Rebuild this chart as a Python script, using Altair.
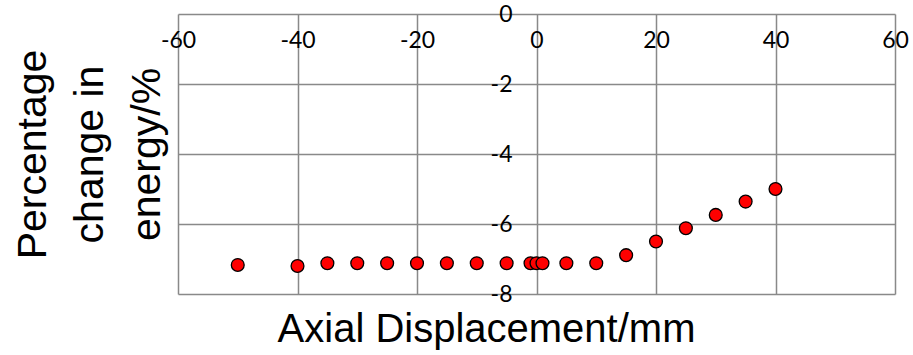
import altair as alt
import pandas as pd

# Data
displacement = [-50, -40, -35, -30, -25, -20, -15, -10, -5, -1, 0, 1, 5, 10, 15, 20, 25, 30, 35, 40]
energy_change = [-7.17, -7.20, -7.12, -7.12, -7.12, -7.12, -7.12, -7.12, -7.12, -7.12, -7.12, -7.12,
                 -7.12, -7.12, -6.89, -6.50, -6.12, -5.74, -5.36, -5.00]
x_ticks = [-60, -40, -20, 0, 20, 40, 60]
y_ticks = [0, -2, -4, -6, -8]

df = pd.DataFrame({"x": displacement, "y": energy_change})

GRID = "#898989"
TICK_FONT = "Lato"
TITLE_FONT = "Liberation Sans"

chart = alt.Chart(df).mark_circle(
    color="#ff0000", stroke="#000000", strokeWidth=1.3, size=165, opacity=1
).encode(
    x=alt.X("x:Q",
            scale=alt.Scale(domain=[-60, 60], nice=False, zero=False),
            axis=alt.Axis(
                orient="bottom", offset=-280, values=x_ticks,
                labelExpr="'' + datum.value",
                domain=False, ticks=False, tickSize=0,
                grid=True, gridColor=GRID, gridWidth=1.5, gridOpacity=1,
                labelFont=TICK_FONT, labelFontSize=23, labelColor="#000000",
                labelPadding=26, labelBaseline="middle", labelFlush=False,
                labelOverlap=False,
                title="Axial Displacement/mm", titleFont=TITLE_FONT, titleFontSize=40,
                titleFontWeight="normal", titleColor="#000000",
                titleX=308, titleY=327, titleAlign="center", titleBaseline="alphabetic",
                titleAnchor="start",
            )),
    y=alt.Y("y:Q",
            scale=alt.Scale(domain=[-8, 0], nice=False, zero=False),
            axis=alt.Axis(
                orient="left", offset=-358, values=y_ticks,
                labelExpr="'' + datum.value",
                domain=False, ticks=False, tickSize=0,
                grid=True, gridColor=GRID, gridWidth=1.5, gridOpacity=1,
                labelFont=TICK_FONT, labelFontSize=23, labelColor="#000000",
                labelPadding=24, labelFlush=False, labelOverlap=False,
                title=["Percentage", "change in", "energy/%"],
                titleFont=TITLE_FONT, titleFontSize=41, titleFontWeight="normal",
                titleColor="#000000", titleLineHeight=57,
                titleAngle=270, titleX=-503, titleY=140,
                titleAlign="center", titleBaseline="middle", titleAnchor="start",
            )),
).properties(
    width=717, height=280,
    autosize=alt.AutoSizeParams(type="none"),
    padding={"left": 178, "top": 14, "right": 18, "bottom": 61},
    background="#ffffff",
).configure_view(strokeWidth=0)

chart.save("out.html", embed_options={"renderer": "svg", "actions": False})
